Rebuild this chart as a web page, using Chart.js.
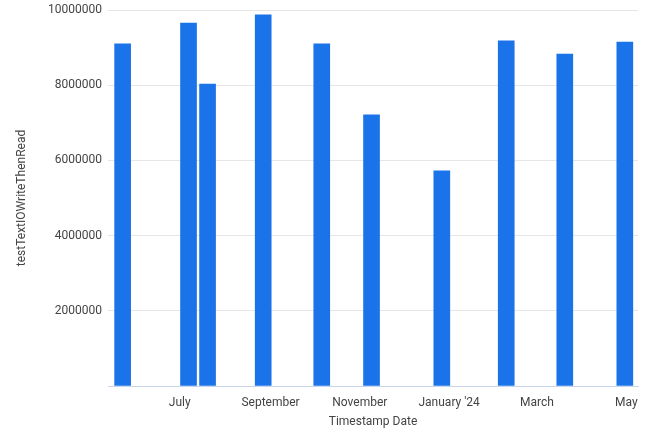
<!DOCTYPE html>
<html>
<head>
<meta charset="utf-8">
<script src="https://cdn.jsdelivr.net/npm/chart.js@4"></script>
<style>
  html, body { margin: 0; padding: 0; background: #fff; }
  #wrap { width: 650px; height: 442px; }
</style>
</head>
<body>
<div id="wrap"><canvas id="chart"></canvas></div>
<script>
// dates of each run and the measured value
const runDates = ["2023-05-23", "2023-07-07", "2023-07-20", "2023-08-27", "2023-10-06",
  "2023-11-09", "2023-12-27", "2024-02-09", "2024-03-20", "2024-04-30"];
const runValues = [9100000, 9650000, 8030000, 9870000, 9100000,
  7210000, 5720000, 9180000, 8830000, 9150000];

// month ticks shown on the x axis
const tickDates = ["2023-07-01", "2023-09-01", "2023-11-01", "2024-01-01", "2024-03-01", "2024-05-01"];
const tickLabels = ["July", "September", "November", "January '24", "March", "May"];

const axisMin = "2023-05-13";
const axisMax = "2024-05-09";

const toTime = (s) => new Date(s + "T00:00:00Z").getTime();

const points = runDates.map((d, i) => ({ x: toTime(d), y: runValues[i] }));
const tickTimes = tickDates.map(toTime);

const textColor = "#444";
const font = { family: "Roboto", size: 12 };

const ctx = document.getElementById("chart").getContext("2d");

new Chart(ctx, {
  type: "bar",
  data: {
    datasets: [
      {
        label: "testTextIOWriteThenRead",
        data: points,
        backgroundColor: "#1a73e8",
        borderWidth: 0,
        barThickness: 16,
      },
    ],
  },
  options: {
    responsive: true,
    maintainAspectRatio: false,
    animation: false,
    layout: { padding: { top: 10, right: 12, bottom: 13, left: 15 } },
    scales: {
      x: {
        type: "linear",
        min: toTime(axisMin),
        max: toTime(axisMax),
        offset: false,
        afterBuildTicks: (axis) => {
          axis.ticks = tickTimes.map((v) => ({ value: v }));
        },
        afterFit: (axis) => {
          axis.height = 43;
        },
        ticks: {
          color: textColor,
          font: font,
          padding: 10,
          maxRotation: 0,
          autoSkip: false,
          callback: (value) => {
            const i = tickTimes.indexOf(value);
            return i >= 0 ? tickLabels[i] : "";
          },
        },
        grid: { display: false, drawTicks: false },
        border: { display: true, color: "#c6d4ec", width: 1 },
        title: {
          display: true,
          text: "Timestamp Date",
          color: textColor,
          font: font,
          padding: { top: 4, bottom: 0 },
        },
      },
      y: {
        min: 0,
        max: 10000000,
        afterFit: (axis) => {
          axis.width = 93;
          axis.paddingTop = 0;
          axis.paddingBottom = 0;
        },
        ticks: {
          stepSize: 2000000,
          color: textColor,
          font: font,
          padding: 6,
          callback: (value) => (value === 0 ? "" : String(value)),
        },
        grid: {
          color: (c) => (c.tick.value === 0 ? "rgba(0,0,0,0)" : "#e6e6e6"),
          drawTicks: false,
        },
        border: { display: false },
        title: {
          display: true,
          text: "testTextIOWriteThenRead",
          color: textColor,
          font: font,
          padding: { top: 0, bottom: 4 },
        },
      },
    },
    plugins: {
      legend: { display: false },
      tooltip: { enabled: false },
    },
  },
});
</script>
</body>
</html>
